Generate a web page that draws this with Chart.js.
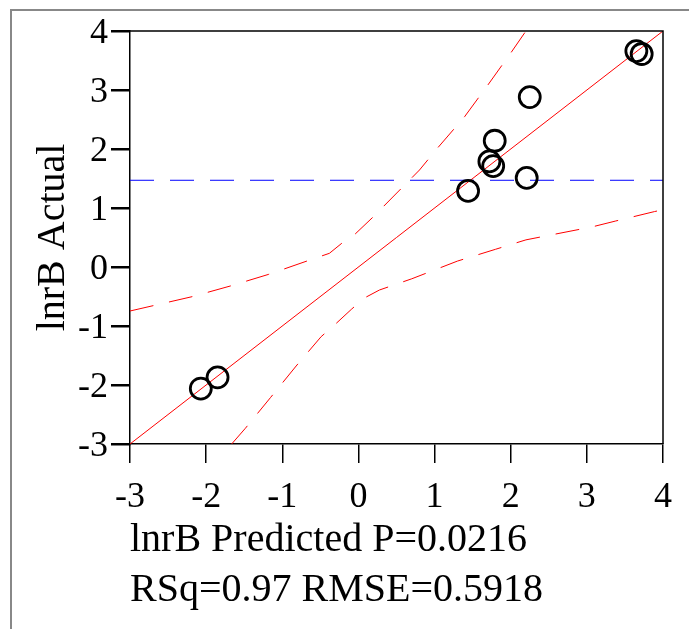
<!DOCTYPE html>
<html>
<head>
<meta charset="utf-8">
<script src="https://cdn.jsdelivr.net/npm/chart.js@4"></script>
<style>
  body { margin: 0; background: #fff; }
  #wrap { width: 689px; height: 629px; position: relative; }
</style>
</head>
<body>
<div id="wrap"><canvas id="fitChart"></canvas></div>
<script>
// lnrB predicted vs actual
const predicted = [3.65, 3.72, 2.25, 1.79, 1.72, 1.77, 2.21, 1.44, -1.85, -2.07];
const actual    = [3.66, 3.61, 2.88, 2.14, 1.79, 1.71, 1.51, 1.29, -1.87, -2.06];

// fit line and mean of actual
const fitX = [-3, 4];
const fitY = [-3, 4];
const meanActual = 1.47;

// confidence curves
const upperX = [-3, -2.185, -1.682, -1.178, -0.674, -0.381, -0.219, -0.043, 0.188, 0.802, 1.043, 1.394, 1.70, 2.007, 2.2];
const upperY = [-0.746, -0.503, -0.322, -0.124, 0.102, 0.232, 0.402, 0.559, 0.842, 1.644, 2.022, 2.547, 3.085, 3.639, 4.0];
const lowerX = [-1.665, -1.485, -1.156, -0.818, -0.49, -0.315, -0.088, 0.07, 0.276, 0.7, 1.3, 1.8, 2.2, 3.07, 3.38, 3.89, 4];
const lowerY = [-3, -2.734, -2.215, -1.678, -1.181, -0.983, -0.712, -0.531, -0.39, -0.2, 0.1, 0.3, 0.46, 0.68, 0.78, 0.94, 0.97];

const axisTicks = [-3, -2, -1, 0, 1, 2, 3, 4];

const xAxisTitle = ['lnrB Predicted P=0.0216', 'RSq=0.97 RMSE=0.5918'];
const yAxisTitle = 'lnrB Actual';

const pts = (xs, ys) => xs.map((x, i) => ({x: x, y: ys[i]}));
const serif = 'Liberation Serif, Times New Roman, serif';

// white page with a gray frame on top and left, box round the plot
const framePlugin = {
	id: 'frame',
	beforeDraw(chart) {
		const ctx = chart.ctx;
		ctx.save();
		ctx.fillStyle = '#fff';
		ctx.fillRect(0, 0, chart.width, chart.height);
		ctx.strokeStyle = '#888';
		ctx.lineWidth = 2;
		ctx.beginPath();
		ctx.moveTo(11, chart.height);
		ctx.lineTo(11, 10);
		ctx.lineTo(chart.width, 10);
		ctx.stroke();
		ctx.restore();
	},
	afterDraw(chart) {
		const a = chart.chartArea;
		const ctx = chart.ctx;
		ctx.save();
		ctx.strokeStyle = '#000';
		ctx.lineWidth = 1.5;
		ctx.beginPath();
		ctx.moveTo(a.left, a.top);
		ctx.lineTo(a.right, a.top);
		ctx.lineTo(a.right, a.bottom);
		ctx.stroke();
		ctx.restore();
	}
};

const dashed = {borderDash: [24, 16], borderWidth: 1, pointRadius: 0, showLine: true, fill: false};

new Chart(document.getElementById('fitChart'), {
	type: 'scatter',
	data: {
		datasets: [{
			data: pts(predicted, actual),
			pointStyle: 'circle',
			pointRadius: 10.5,
			pointBorderWidth: 2.8,
			borderColor: '#000',
			backgroundColor: 'rgba(0,0,0,0)',
			order: 0
		}, {
			data: pts(fitX, fitY),
			showLine: true,
			borderColor: '#ff0000',
			borderWidth: 1,
			pointRadius: 0,
			order: 1
		}, Object.assign({
			data: pts(fitX, [meanActual, meanActual]),
			borderColor: '#0000ff',
			order: 2
		}, dashed), Object.assign({
			data: pts(upperX, upperY),
			borderColor: '#ff0000',
			order: 3
		}, dashed), Object.assign({
			data: pts(lowerX, lowerY),
			borderColor: '#ff0000',
			order: 4
		}, dashed)]
	},
	options: {
		responsive: true,
		maintainAspectRatio: false,
		animation: false,
		layout: {padding: {top: 31, right: 26, left: 0, bottom: 0}},
		plugins: {legend: {display: false}, tooltip: {enabled: false}},
		scales: {
			x: {
				type: 'linear',
				min: -3, max: 4,
				afterBuildTicks: s => { s.ticks = axisTicks.map(v => ({value: v})); },
				afterFit: s => { s.height = 185; },
				grid: {drawOnChartArea: false, drawTicks: true, tickLength: 19, color: '#000', lineWidth: 1.5},
				border: {display: true, color: '#000', width: 1.5},
				ticks: {color: '#000', padding: 13, font: {family: serif, size: 36}, maxRotation: 0},
				title: {display: true, text: xAxisTitle, align: 'start', color: '#000',
					font: {family: serif, size: 40, lineHeight: 1.25}, padding: {top: 0, bottom: 14}}
			},
			y: {
				type: 'linear',
				min: -3, max: 4,
				afterBuildTicks: s => { s.ticks = axisTicks.map(v => ({value: v})); },
				afterFit: s => { s.width = 130; },
				grid: {drawOnChartArea: false, drawTicks: true, tickLength: 19, color: '#000', lineWidth: 2.5},
				border: {display: true, color: '#000', width: 1.5},
				ticks: {color: '#000', padding: 3, labelOffset: 3, font: {family: serif, size: 36}},
				title: {display: true, text: yAxisTitle, color: '#000',
					font: {family: serif, size: 40, lineHeight: 1.2}, padding: {top: 29, bottom: 0}}
			}
		}
	},
	plugins: [framePlugin]
});
</script>
</body>
</html>
